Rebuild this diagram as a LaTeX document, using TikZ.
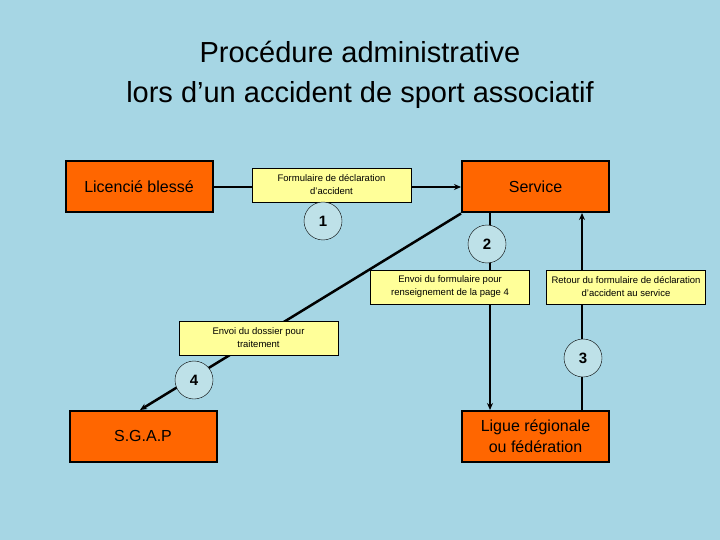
\documentclass[tikz,border=0pt]{standalone}
\usepackage{fontspec}
\setmainfont{Liberation Sans}
\usepackage{tikz}
\usetikzlibrary{positioning,arrows.meta}
\definecolor{eau}{RGB}{166,214,228}
\definecolor{boxorange}{RGB}{255,102,0}
\definecolor{boxjaune}{RGB}{255,255,153}
\definecolor{rond}{RGB}{190,225,232}
\tikzset{
  acteur/.style={draw, line width=2pt, fill=boxorange, minimum width=147pt, minimum height=51pt, font=\fontsize{16}{21}\selectfont, align=center},
  etiquette/.style={draw, thin, fill=boxjaune, minimum width=159pt, minimum height=34pt, font=\fontsize{9.5}{13}\selectfont, align=center, inner sep=1pt},
  etape/.style={draw, thin, circle, fill=rond, minimum size=38pt, font=\bfseries\fontsize{15}{18}\selectfont},
  fleche/.style={line width=2.5pt, -{Stealth[length=7pt,width=6pt]}}
}
\begin{document}
\begin{tikzpicture}[x=1pt, y=-1pt]
\fill[eau] (0,0) rectangle (720,540);
\useasboundingbox (0,0) rectangle (720,540);
\node[font=\fontsize{29}{40}\selectfont, align=center] (titre) at (360,75) {Procédure administrative\\lors d’un accident de sport associatif};

\node[acteur] (licencie) at (139,187) {Licencié blessé};
\node[acteur] (service) at (535.5,187) {Service};
\node[acteur] (sgap) at (143,436) {S.G.A.P};
\node[acteur] (ligue) at (535.5,436) {Ligue régionale\\ou fédération};

\coordinate (s2) at (490,213);
\coordinate (l2) at (490,410);
\coordinate (s3) at (582,213);
\coordinate (l3) at (582,410);
\coordinate (sgaptop) at (140,410);

\draw[fleche] (licencie.east) -- (service.west);
\draw[fleche] (s2) -- (l2);
\draw[fleche] (l3) -- (s3);
\draw[fleche] (service.south west) -- (sgaptop);

\node[etiquette] (lab1) at (331.5,185) {Formulaire de déclaration\\d’accident};
\node[etiquette] (lab2) at (450,287) {Envoi du formulaire pour\\renseignement de la page 4};
\node[etiquette] (lab3) at (626,287) {Retour du formulaire de déclaration\\d’accident au service};
\node[etiquette] (lab4) at (258.5,338) {Envoi du dossier pour\\traitement};

\node[etape] (c1) at (323,221) {1};
\node[etape] (c2) at (487,244) {2};
\node[etape] (c3) at (583,358) {3};
\node[etape] (c4) at (194,380) {4};
\end{tikzpicture}
\end{document}
